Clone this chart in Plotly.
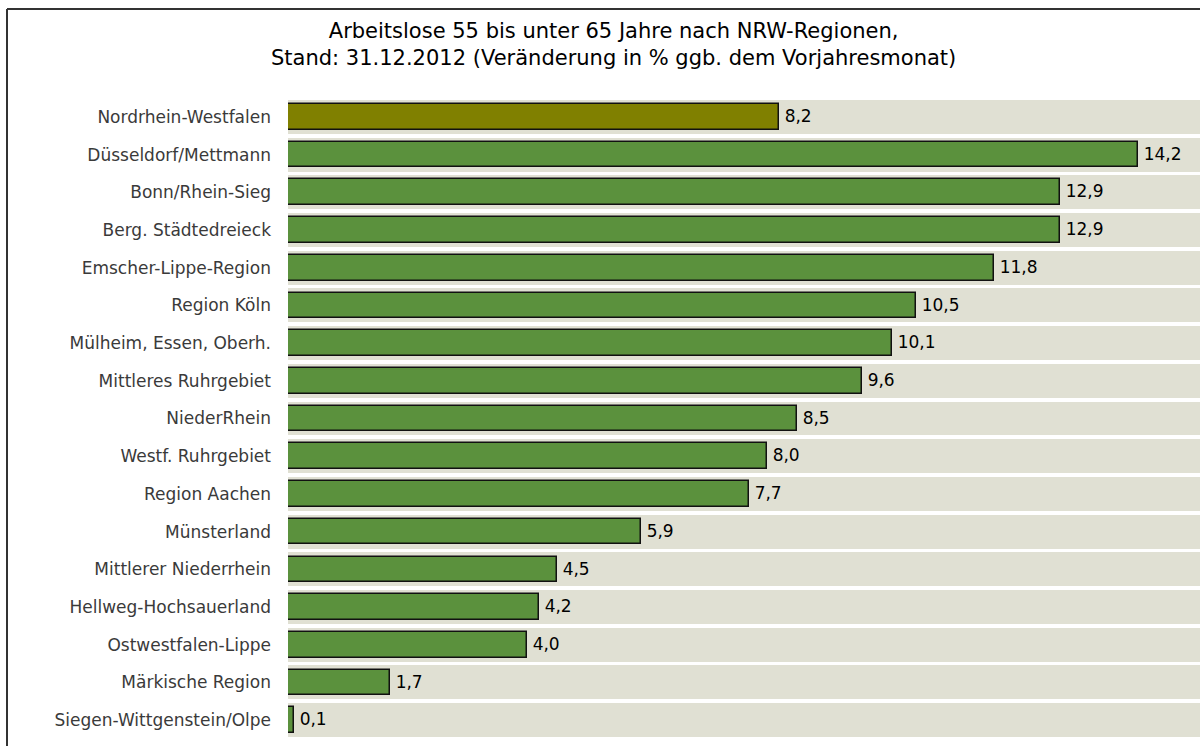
import plotly.graph_objects as go

regions = [
    "Nordrhein-Westfalen", "Düsseldorf/Mettmann", "Bonn/Rhein-Sieg", "Berg. Städtedreieck",
    "Emscher-Lippe-Region", "Region Köln", "Mülheim, Essen, Oberh.", "Mittleres Ruhrgebiet",
    "NiederRhein", "Westf. Ruhrgebiet", "Region Aachen", "Münsterland",
    "Mittlerer Niederrhein", "Hellweg-Hochsauerland", "Ostwestfalen-Lippe", "Märkische Region",
    "Siegen-Wittgenstein/Olpe",
]
values = [8.2, 14.2, 12.9, 12.9, 11.8, 10.5, 10.1, 9.6, 8.5, 8.0, 7.7, 5.9, 4.5, 4.2, 4.0, 1.7, 0.1]
value_labels = [f"{v:.1f}".replace(".", ",") for v in values]
bar_colors = ["#808000"] + ["#5b913d"] * (len(values) - 1)
title_text = ("Arbeitslose 55 bis unter 65 Jahre nach NRW-Regionen,<br>"
              "Stand: 31.12.2012 (Veränderung in % ggb. dem Vorjahresmonat)")

XMAX = 15.24
W, H = 1200, 746
L, R, T, B = 288, 0, 98, 7

fig = go.Figure()
fig.add_trace(go.Bar(
    y=regions, x=[XMAX] * len(regions), orientation="h",
    marker=dict(color="#e0e0d3", line=dict(width=0)),
    width=0.9, hoverinfo="skip", showlegend=False,
))
fig.add_trace(go.Bar(
    y=regions, x=values, orientation="h",
    marker=dict(color=bar_colors, line=dict(color="#111111", width=1.5)),
    width=0.68, text=value_labels, texttemplate="\u2009%{text}", textposition="outside",
    textfont=dict(family="DejaVu Sans", size=17, color="#000000"),
    cliponaxis=False, showlegend=False,
))

pw = W - L - R
ph = H - T - B
def px_x(p):
    return (p - L) / pw
def px_y(p):
    return (H - B - p) / ph

fig.update_layout(
    width=W, height=H,
    margin=dict(l=L, r=R, t=T, b=B),
    paper_bgcolor="white", plot_bgcolor="white",
    barmode="overlay", bargap=0,
    xaxis=dict(range=[0, XMAX], visible=False, fixedrange=True),
    yaxis=dict(categoryorder="array", categoryarray=regions[::-1],
               showgrid=False, zeroline=False, showline=False, ticks="",
               ticklabelstandoff=16, fixedrange=True,
               tickfont=dict(family="DejaVu Sans", size=17, color="#3a3a3a")),
    annotations=[dict(
        text=title_text, xref="paper", yref="paper",
        x=px_x(613), y=px_y(44), xanchor="center", yanchor="middle",
        showarrow=False, align="center",
        font=dict(family="DejaVu Sans", size=21, color="#000000"),
    )],
    shapes=[
        dict(type="line", xref="paper", yref="paper", x0=px_x(7), x1=px_x(1210),
             y0=px_y(9), y1=px_y(9), line=dict(color="#333333", width=2)),
        dict(type="line", xref="paper", yref="paper", x0=px_x(7), x1=px_x(7),
             y0=px_y(9), y1=px_y(760), line=dict(color="#333333", width=2)),
    ],
)

fig.write_html(
    "out.html",
    config={"displayModeBar": False},
    post_script="document.body.style.margin='0';document.body.style.overflow='hidden';",
)
